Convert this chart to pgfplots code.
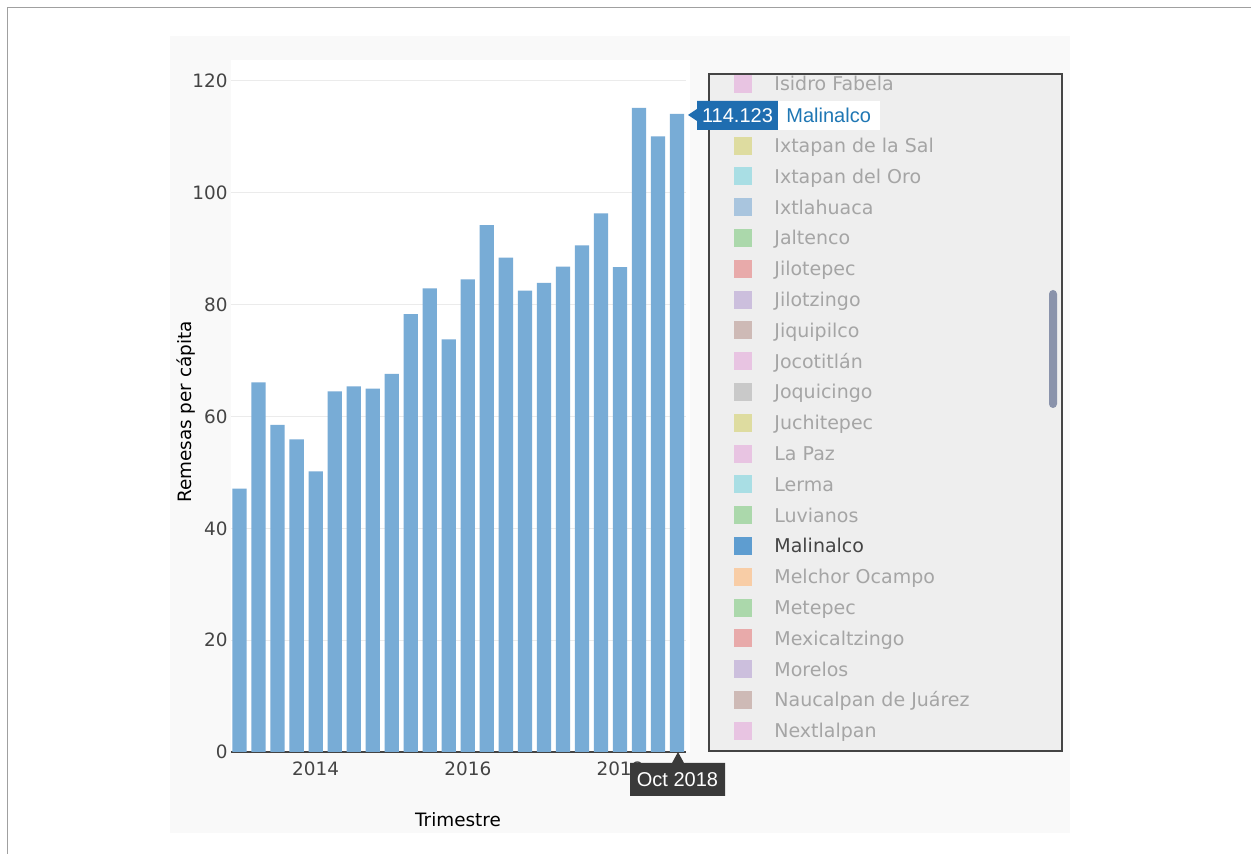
\documentclass[border=0pt]{standalone}
\usepackage{fontspec}
\setmainfont{DejaVu Sans}
\newfontfamily\tipfont{Liberation Sans}
\usepackage{pgfplots}
\usepackage{pgfplotstable}
\pgfplotsset{compat=1.18}

\definecolor{barblue}{HTML}{78ACD6}
\definecolor{panelbg}{HTML}{F9F9F9}
\definecolor{outline}{HTML}{A0A0A0}
\definecolor{gridc}{HTML}{EBEBEB}
\definecolor{axisc}{HTML}{444444}
\definecolor{textc}{HTML}{444444}
\definecolor{legbg}{HTML}{EEEEEE}
\definecolor{legtext}{HTML}{A5A5A5}
\definecolor{tipblue}{HTML}{1F6DB0}
\definecolor{tipdark}{HTML}{3A3A3A}
\definecolor{malblue}{HTML}{1F77B4}
\definecolor{scroll}{HTML}{8A93AB}
\definecolor{lpink}{HTML}{E8C4E2}
\definecolor{lolive}{HTML}{DEDCA0}
\definecolor{lcyan}{HTML}{A9DEE4}
\definecolor{lblue}{HTML}{A9C5DE}
\definecolor{lgreen}{HTML}{ABD8AB}
\definecolor{lred}{HTML}{E8AAAA}
\definecolor{lpurple}{HTML}{CCBFDD}
\definecolor{lbrown}{HTML}{CEBAB6}
\definecolor{lgray}{HTML}{C9C9C9}
\definecolor{lorange}{HTML}{F8CDA6}
\definecolor{solidblue}{HTML}{5E9DD0}

% remesas per capita, Malinalco, quarters Jan 2013 .. Oct 2018
\pgfplotstableread{
idx val
0 47.1
1 66.1
2 58.5
3 55.9
4 50.2
5 64.5
6 65.4
7 65.0
8 67.6
9 78.3
10 82.9
11 73.8
12 84.5
13 94.2
14 88.4
15 82.5
16 83.9
17 86.8
18 90.6
19 96.3
20 86.7
21 115.2
22 110.1
23 114.123
}\remesas

\begin{document}
\begin{tikzpicture}
% background, in screen pixels (origin top left)
\begin{scope}[x=0.5pt, y=-0.5pt, yshift=427pt]
\useasboundingbox (0,0) rectangle (1251,854);
\fill[white] (0,0) rectangle (1251,854);
\draw[outline, line width=0.75pt] (7.5,854) -- (7.5,7.5) -- (1251,7.5);
\fill[panelbg] (170,36) rectangle (1070,833);
\fill[white] (231,60) rectangle (690,752);
\end{scope}

\begin{axis}[
  at={(115.5pt,51pt)}, anchor=south west,
  scale only axis,
  width=227.5pt, height=343.9pt,
  xmin=-0.45, xmax=23.47,
  ymin=0, ymax=123,
  axis x line*=bottom, axis y line*=left,
  x axis line style={draw=axisc, line width=0.75pt},
  y axis line style={draw=none},
  major tick length=0pt,
  major tick style={draw=none},
  ytick={0,20,40,60,80,100,120},
  xtick={4,12,20},
  xticklabels={2014,2016,2018},
  ymajorgrids,
  grid style={draw=gridc, line width=0.5pt},
  /pgf/number format/assume math mode=true,
  tick label style={font=\fontsize{9.2}{11}\selectfont, text=textc},
  yticklabel style={anchor=east, inner sep=0pt, xshift=-1.5pt},
  xticklabel style={anchor=north, inner sep=0pt, yshift=-4.5pt},
  xlabel={Trimestre},
  ylabel={Remesas per cápita},
  label style={font=\fontsize{9.2}{11}\selectfont, text=black},
  xlabel style={at={(axis description cs:0.4989,-0.0989)}, anchor=center},
  ylabel style={at={(axis description cs:-0.0989,0.4943)}, anchor=center},
]
\addplot[ybar, bar width=0.75, fill=barblue, draw=none] table[x=idx, y=val] {\remesas};
\end{axis}

\begin{scope}[x=0.5pt, y=-0.5pt, yshift=427pt]
% legend panel
\fill[legbg] (709,74) rectangle (1062,751);
\begin{scope}
\clip (709,74) rectangle (1062,751);
\foreach \k/\name/\col/\tc in {
  0/Isidro Fabela/lpink/legtext,
  2/Ixtapan de la Sal/lolive/legtext,
  3/Ixtapan del Oro/lcyan/legtext,
  4/Ixtlahuaca/lblue/legtext,
  5/Jaltenco/lgreen/legtext,
  6/Jilotepec/lred/legtext,
  7/Jilotzingo/lpurple/legtext,
  8/Jiquipilco/lbrown/legtext,
  9/Jocotitlán/lpink/legtext,
  10/Joquicingo/lgray/legtext,
  11/Juchitepec/lolive/legtext,
  12/La Paz/lpink/legtext,
  13/Lerma/lcyan/legtext,
  14/Luvianos/lgreen/legtext,
  15/Malinalco/solidblue/textc,
  16/Melchor Ocampo/lorange/legtext,
  17/Metepec/lgreen/legtext,
  18/Mexicaltzingo/lred/legtext,
  19/Morelos/lpurple/legtext,
  20/Naucalpan de Juárez/lbrown/legtext,
  21/Nextlalpan/lpink/legtext}{
  \pgfmathsetmacro{\yy}{84+30.8*\k}
  \fill[\col] (734,\yy-9) rectangle (752,\yy+9);
  \node[anchor=base west, inner sep=0pt, text=\tc, font=\fontsize{9.5}{11}\selectfont] at (774,\yy+7) {\name};
}
\end{scope}
\draw[axisc, line width=0.75pt] (709,74) rectangle (1062,751);
\fill[scroll, rounded corners=2pt] (1049,290) rectangle (1057,408);

% hover labels
\fill[tipblue] (688,115) -- (697,109) -- (697,101) -- (778,101) -- (778,130) -- (697,130) -- (697,121) -- cycle;
\fill[white] (778,101) rectangle (880,130);
\node[anchor=base, inner sep=0pt, text=white, font=\tipfont\fontsize{10}{12}\selectfont] at (737.5,122.5) {114.123};
\node[anchor=base west, inner sep=0pt, text=malblue, font=\tipfont\fontsize{10}{12}\selectfont] at (786,122.5) {Malinalco};

\fill[tipdark] (678,752) -- (684,763) -- (725,763) -- (725,796) -- (630,796) -- (630,763) -- (672,763) -- cycle;
\node[anchor=base, inner sep=0pt, text=white, font=\tipfont\fontsize{10}{12}\selectfont] at (677.5,786.5) {Oct 2018};
\end{scope}
\end{tikzpicture}
\end{document}
